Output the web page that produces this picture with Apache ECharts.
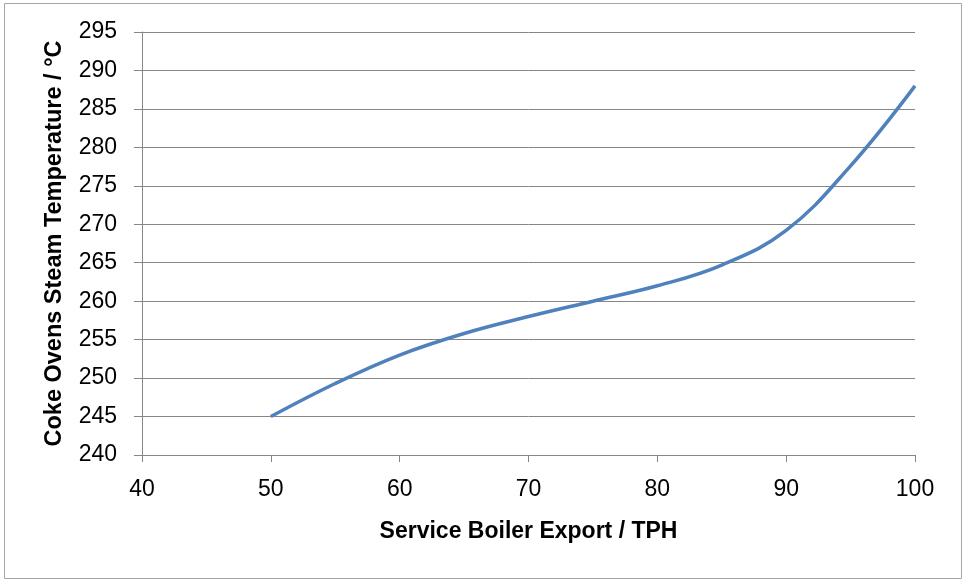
<!DOCTYPE html>
<html><head><meta charset="utf-8">
<script src="https://cdn.jsdelivr.net/npm/echarts@6/dist/echarts.min.js"></script>
<style>html,body{margin:0;padding:0;background:#fff}#c{width:963px;height:580px}</style>
</head><body><div id="c"></div>
<script>
const xValues = [50, 55, 60, 65, 70, 75, 80, 85, 90, 95, 100];
const temps = [245, 249.3, 253, 255.8, 258, 260, 262, 264.7, 269.2, 277.6, 288];
const xTitle = 'Service Boiler Export / TPH';
const yTitle = 'Coke Ovens Steam Temperature / °C';

const chart = echarts.init(document.getElementById('c'), null, {renderer: 'canvas'});
const font = '"Liberation Sans", Arial, sans-serif';
chart.setOption({
  animation: false,
  backgroundColor: '#fff',
  graphic: [{type: 'rect', shape: {x: 4.5, y: 3.5, width: 957, height: 575}, style: {fill: 'none', stroke: '#a6a6a6', lineWidth: 1}, z: -1}],
  grid: {left: 142, right: 48, top: 32, bottom: 125},
  xAxis: {
    type: 'value', min: 40, max: 100, interval: 10,
    name: xTitle, nameLocation: 'middle', nameGap: 65,
    nameTextStyle: {fontFamily: font, fontWeight: 'bold', fontSize: 23, color: '#000'},
    axisLine: {show: true, lineStyle: {color: '#868686', width: 1}},
    axisTick: {show: true, length: 7, inside: false, lineStyle: {color: '#868686'}},
    axisLabel: {fontFamily: font, fontSize: 23, color: '#000', margin: 23},
    splitLine: {show: false}
  },
  yAxis: {
    type: 'value', min: 240, max: 295, interval: 5,
    name: yTitle, nameLocation: 'middle', nameGap: 75, nameRotate: 90,
    nameTextStyle: {fontFamily: font, fontWeight: 'bold', fontSize: 23.5, color: '#000'},
    axisLine: {show: true, lineStyle: {color: '#868686', width: 1}},
    axisTick: {show: true, length: 8, inside: false, lineStyle: {color: '#868686'}},
    axisLabel: {fontFamily: font, fontSize: 23, color: '#000', margin: 25},
    splitLine: {show: true, lineStyle: {color: '#868686', width: 1}}
  },
  series: [{
    type: 'line',
    data: xValues.map((x, i) => [x, temps[i]]),
    smooth: 0.4,
    showSymbol: false,
    lineStyle: {color: '#4F81BD', width: 3.5},
    itemStyle: {color: '#4F81BD'}
  }]
});
</script></body></html>
